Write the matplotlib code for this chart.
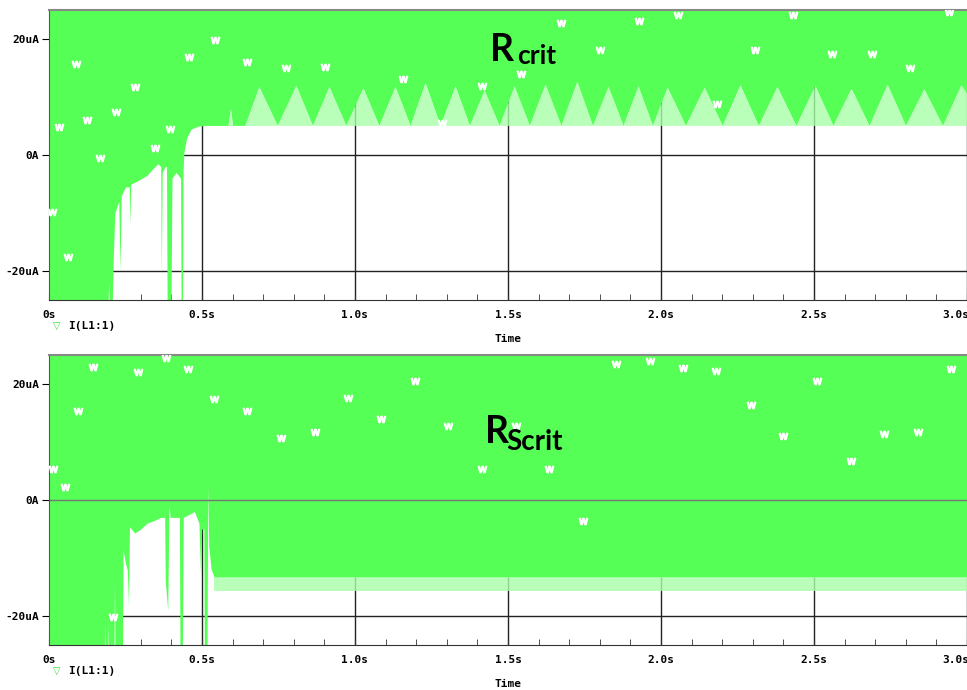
import matplotlib.pyplot as plt
import matplotlib.transforms as mtransforms

# -----------------------
# AXIS SETTINGS
# -----------------------
x_ticks = [0, 0.5, 1.0, 1.5, 2.0, 2.5, 3.0]
x_labels = ["0s", "0.5s", "1.0s", "1.5s", "2.0s", "2.5s", "3.0s"]
y_ticks = [-20, 0, 20]
y_labels = ["-20uA", "0A", "20uA"]
trace_name = "I(L1:1)"

# -----------------------
# TOP TRACE (Rcrit) - lower edge of the green band, uA
# -----------------------
top_edge_t = [0.0, 0.190, 0.195, 0.200, 0.205, 0.210, 0.215, 0.228, 0.232, 0.236,
              0.250, 0.262, 0.264, 0.267, 0.288, 0.304, 0.320, 0.337, 0.356, 0.365,
              0.367, 0.370, 0.380, 0.384, 0.386, 0.392, 0.398, 0.402, 0.415, 0.430,
              0.432, 0.436, 0.438, 0.441, 0.450, 0.465, 0.490, 0.510, 0.585, 0.593,
              0.600]
top_edge_v = [-30, -30, -22, -30, -30, -18, -10, -8, -20, -7,
              -5.5, -5.5, -12, -5, -4.5, -4, -3.5, -2.5, -1.5, -2,
              -21, -3, -2, -2, -25, -30, -30, -4, -3, -4,
              -30, -30, -3, 0.5, 3, 4.5, 5.0, 5.1, 5.1, 8.0,
              5.1]

# ripple after settling: base level, peaks and valleys
top_base = 5.1
top_peak_t = [0.686, 0.807, 0.915, 1.026, 1.131, 1.229, 1.327, 1.422, 1.520, 1.621,
              1.725, 1.827, 1.925, 2.020, 2.141, 2.258, 2.379, 2.503, 2.621, 2.739,
              2.859, 2.980]
top_peak_v = [11.8, 12.0, 11.8, 11.6, 11.8, 12.5, 11.9, 11.2, 11.9, 12.2,
              12.7, 11.8, 11.9, 11.7, 11.7, 12.1, 11.8, 12.0, 11.5, 12.2,
              11.4, 12.1]
top_valley_t = [0.640, 0.746, 0.861, 0.970, 1.078, 1.180, 1.278, 1.374, 1.471, 1.570,
                1.673, 1.776, 1.876, 1.972, 2.080, 2.200, 2.318, 2.441, 2.562, 2.680,
                2.799, 2.920]

# trace symbols
top_mark_t = [0.010, 0.033, 0.062, 0.088, 0.124, 0.167, 0.219, 0.281, 0.346, 0.395,
              0.458, 0.542, 0.647, 0.775, 0.902, 1.157, 1.284, 1.415, 1.542, 1.673,
              1.801, 1.928, 2.056, 2.183, 2.307, 2.431, 2.559, 2.690, 2.814, 2.941]
top_mark_v = [-9.8, 4.8, -17.6, 15.7, 6.0, -0.5, 7.4, 11.7, 1.2, 4.5,
              16.9, 19.8, 16.0, 15.0, 15.2, 13.1, 5.5, 11.9, 14.0, 22.8,
              18.1, 23.1, 24.1, 8.8, 18.1, 24.1, 17.4, 17.4, 15.0, 24.7]

# -----------------------
# BOTTOM TRACE (RScrit)
# -----------------------
bot_edge_t = [0.0, 0.180, 0.182, 0.184, 0.190, 0.192, 0.194, 0.212, 0.214, 0.216,
              0.240, 0.242, 0.250, 0.256, 0.260, 0.263, 0.280, 0.300, 0.320, 0.345,
              0.365, 0.378, 0.380, 0.388, 0.392, 0.396, 0.426, 0.428, 0.436, 0.439,
              0.475, 0.490, 0.495, 0.499, 0.506, 0.508, 0.516, 0.519, 0.522, 0.530,
              0.540, 3.0]
bot_edge_v = [-30, -30, -20.7, -30, -30, -21, -30, -30, -13.3, -30,
              -30, -8.6, -10.9, -12.1, -18.4, -4.6, -5.7, -5.0, -4.0, -3.5,
              -3.0, -3.0, -14, -19, -1.0, -3.0, -3.0, -25, -25, -3.0,
              -2.0, -4.0, -12.6, -5.0, -5.0, -30, -30, 2.6, -8.0, -12.0,
              -13.3, -13.3]
bot_band_t = [0.54, 3.0]
bot_band_low = -15.7

bot_mark_t = [0.013, 0.052, 0.095, 0.144, 0.209, 0.291, 0.382, 0.454, 0.539, 0.647,
              0.758, 0.869, 0.977, 1.085, 1.196, 1.304, 1.415, 1.526, 1.634, 1.745,
              1.853, 1.964, 2.072, 2.180, 2.294, 2.399, 2.510, 2.621, 2.729, 2.840,
              2.948]
bot_mark_v = [5.3, 2.2, 15.3, 22.9, -20.2, 22.1, 24.5, 22.6, 17.4, 15.3,
              10.7, 11.7, 17.6, 14.0, 20.5, 12.8, 5.3, 12.8, 5.3, -3.6,
              23.4, 24.0, 22.8, 22.2, 16.4, 11.0, 20.5, 6.7, 11.4, 11.7,
              22.6]

GREEN = "#55ff55"
LIGHT = "#a8ffa8"
MONO = {"family": "DejaVu Sans Mono", "weight": "bold", "size": 8}

# -----------------------
# BUILD RIPPLE EDGE FOR TOP TRACE
# -----------------------
ripple = sorted([(t, v) for t, v in zip(top_peak_t, top_peak_v)] +
                [(t, top_base) for t in top_valley_t])
top_t = top_edge_t + [p[0] for p in ripple] + [3.0]
top_v = top_edge_v + [p[1] for p in ripple] + [10.5]

# -----------------------
# CREATE FIGURE
# -----------------------
fig = plt.figure(figsize=(9.67, 6.9), dpi=100)
ax1 = fig.add_axes([49/967, 1-300/690, 1-49/967, 290/690])
ax2 = fig.add_axes([49/967, 1-645/690, 1-49/967, 290/690])


def style_axes(ax, legend_y):
    ax.set_xlim(0, 3.0)
    ax.set_ylim(-25, 25)
    ax.set_axisbelow(True)
    ax.set_xticks(x_ticks)
    ax.set_xticklabels(x_labels, fontdict=MONO)
    ax.set_xticks([i / 10 for i in range(31)], minor=True)
    ax.set_yticks(y_ticks)
    ax.set_yticklabels(y_labels, fontdict=MONO)
    ax.tick_params(axis="x", which="both", direction="in", length=4, pad=7, color="#333333")
    ax.tick_params(axis="y", direction="out", length=5, pad=2)
    ax.grid(True, which="major", color="#222222", linewidth=1)
    ax.spines["right"].set_visible(False)
    ax.spines["top"].set_color("#888888")
    ax.spines["top"].set_linewidth(1.5)
    ax.spines["left"].set_color("#555555")
    ax.spines["bottom"].set_color("#333333")
    # last label sits a bit left, cut by the window edge
    last = ax.get_xticklabels()[-1]
    last.set_transform(last.get_transform() +
                       mtransforms.ScaledTranslation(-11/100, 0, fig.dpi_scale_trans))
    fig.text(508/967, 1-(legend_y+13)/690, "Time", ha="center", va="center", **MONO)
    fig.text(57/967, 1-legend_y/690, "\u25bd", color="#33dd33", fontsize=7,
             ha="center", va="center", family="DejaVu Sans")
    fig.text(68/967, 1-legend_y/690, trace_name, ha="left", va="center", **MONO)


# -----------------------
# TOP PLOT
# -----------------------
ax1.fill_between(top_t, top_v, 30, color=GREEN, linewidth=0, zorder=2)
ax1.fill_between([t for t in top_t if t >= 0.51], top_base,
                 [v for t, v in zip(top_t, top_v) if t >= 0.51],
                 color=LIGHT, alpha=0.8, linewidth=0, zorder=2)
ax1.plot(top_mark_t, top_mark_v, ls="none", marker=r"$\mathrm{w}$", color="white",
         markersize=6, zorder=3)
ax1.text(1.441, 16.2, "R", fontsize=27, fontweight="bold", family="Lato", zorder=4)
ax1.text(1.529, 15.7, "crit", fontsize=19, fontweight="bold", family="Lato", zorder=4)
style_axes(ax1, 326)

# -----------------------
# BOTTOM PLOT
# -----------------------
ax2.fill_between(bot_edge_t, bot_edge_v, 30, color=GREEN, linewidth=0, zorder=2)
ax2.fill_between(bot_band_t, bot_band_low, -13.3, color=LIGHT, alpha=0.8,
                 linewidth=0, zorder=2)
ax2.axhline(0, color="#777777", linewidth=1, zorder=2.5)
ax2.plot(bot_mark_t, bot_mark_v, ls="none", marker=r"$\mathrm{w}$", color="white",
         markersize=6, zorder=3)
ax2.text(1.425, 9.8, "R", fontsize=27, fontweight="bold", family="Lato", zorder=4)
ax2.text(1.494, 8.6, "Scrit", fontsize=20, fontweight="bold", family="Lato", zorder=4)
style_axes(ax2, 671)

fig.savefig("out.png", dpi=100)
